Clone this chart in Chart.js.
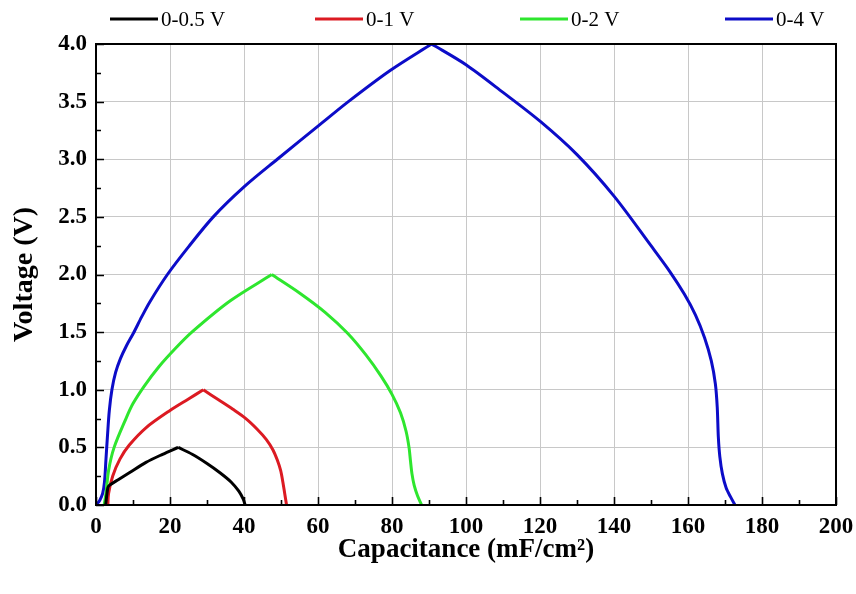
<!DOCTYPE html>
<html><head><meta charset="utf-8">
<script src="https://cdn.jsdelivr.net/npm/chart.js@4/dist/chart.umd.min.js"></script>
<style>html,body{margin:0;padding:0;background:#fff}#wrap{width:856px;height:594px;position:relative}</style>
</head><body><div id="wrap"><canvas id="c" width="856" height="594"></canvas></div>
<script>
// ---- data ----
const seriesLabels = ['0-0.5 V', '0-1 V', '0-2 V', '0-4 V'];
const seriesColors = ['#000000', '#dc1a22', '#2ee62e', '#0c0cc8'];

// 0-0.5 V
const s05ChargeX    = [2.6, 3.2, 3.6, 6.0, 9.0, 13.5, 18.0, 22.2];
const s05ChargeY    = [0.0, 0.15, 0.17, 0.22, 0.28, 0.37, 0.44, 0.50];
const s05DischargeX = [22.2, 26.0, 30.0, 33.5, 36.5, 38.6, 39.8, 40.3];
const s05DischargeY = [0.50, 0.44, 0.36, 0.28, 0.20, 0.12, 0.05, 0.0];

// 0-1 V
const s1ChargeX    = [3.2, 3.4, 4.5, 6.5, 9.0, 13.5, 20.0, 25.0, 29.0];
const s1ChargeY    = [0.0, 0.10, 0.25, 0.40, 0.52, 0.67, 0.82, 0.92, 1.00];
const s1DischargeX = [29.0, 33.0, 37.0, 40.5, 43.5, 46.0, 47.8, 49.0, 49.9, 50.5, 51.0, 51.5];
const s1DischargeY = [1.00, 0.915, 0.83, 0.75, 0.66, 0.57, 0.48, 0.39, 0.30, 0.20, 0.10, 0.0];

// 0-2 V
const s2ChargeX    = [2.2, 2.7, 3.4, 4.9, 8.1, 10.0, 13.0, 17.0, 21.5, 25.9, 36.2, 47.5];
const s2ChargeY    = [0.0, 0.10, 0.30, 0.50, 0.75, 0.88, 1.03, 1.20, 1.36, 1.50, 1.77, 2.00];
const s2DischargeX = [47.5, 55.0, 62.0, 68.0, 73.0, 77.0, 80.0, 82.3, 83.8, 84.6, 85.0, 85.4, 86.0, 86.9, 88.0];
const s2DischargeY = [2.00, 1.84, 1.67, 1.49, 1.30, 1.12, 0.96, 0.80, 0.64, 0.50, 0.38, 0.27, 0.17, 0.08, 0.0];

// 0-4 V
const s4ChargeX    = [0.0, 1.0, 1.8, 2.3, 2.7, 3.1, 3.6, 4.3, 5.3, 6.6, 8.2, 10.1, 12.3, 14.5, 19.3, 25.0, 31.7, 40.0, 49.0, 60.5, 68.2, 79.5, 90.7];
const s4ChargeY    = [0.0, 0.04, 0.10, 0.20, 0.40, 0.60, 0.82, 1.00, 1.15, 1.27, 1.38, 1.49, 1.63, 1.76, 2.00, 2.24, 2.50, 2.76, 3.00, 3.30, 3.50, 3.77, 4.00];
const s4DischargeX = [90.7, 100.0, 110.0, 120.0, 130.0, 140.0, 150.0, 155.0, 159.0, 162.0, 164.5, 166.3, 167.4, 167.9, 168.2, 168.6, 169.3, 170.3, 171.5, 172.7];
const s4DischargeY = [4.00, 3.82, 3.58, 3.33, 3.04, 2.68, 2.25, 2.03, 1.83, 1.65, 1.45, 1.25, 1.05, 0.85, 0.59, 0.42, 0.27, 0.15, 0.07, 0.0];

const xTickValues = [0, 20, 40, 60, 80, 100, 120, 140, 160, 180, 200];
const yTickValues = [0.0, 0.5, 1.0, 1.5, 2.0, 2.5, 3.0, 3.5, 4.0];
const xTitle = 'Capacitance (mF/cm\u00B2)';
const yTitle = 'Voltage (V)';

// ---- build datasets ----
function pts(xs, ys) { return xs.map((x, i) => ({x: x, y: ys[i]})); }
const curves = [
  [[s05ChargeX, s05ChargeY], [s05DischargeX, s05DischargeY]],
  [[s1ChargeX, s1ChargeY], [s1DischargeX, s1DischargeY]],
  [[s2ChargeX, s2ChargeY], [s2DischargeX, s2DischargeY]],
  [[s4ChargeX, s4ChargeY], [s4DischargeX, s4DischargeY]]
];
const datasets = [];
curves.forEach((c, i) => {
  c.forEach(part => {
    datasets.push({
      label: seriesLabels[i],
      data: pts(part[0], part[1]),
      borderColor: seriesColors[i],
      backgroundColor: seriesColors[i],
      borderWidth: 3,
      pointRadius: 0,
      showLine: true,
      fill: false,
      tension: 0.3
    });
  });
});

const serif = '"Liberation Serif", "Times New Roman", serif';

const decorPlugin = {
  id: 'decor',
  afterDraw(chart) {
    const ctx = chart.ctx;
    const a = chart.chartArea;
    const xs = chart.scales.x, ys = chart.scales.y;
    ctx.save();
    ctx.strokeStyle = '#000';
    ctx.lineWidth = 2;
    ctx.strokeRect(a.left, a.top, a.right - a.left, a.bottom - a.top);
    ctx.lineWidth = 1.6;
    ctx.beginPath();
    for (let i = 0; i < xTickValues.length; i++) {
      const px = Math.round(xs.getPixelForValue(xTickValues[i])) + 0.5;
      ctx.moveTo(px, a.bottom); ctx.lineTo(px, a.bottom - 8);
      if (i < xTickValues.length - 1) {
        const m = Math.round(xs.getPixelForValue((xTickValues[i] + xTickValues[i + 1]) / 2)) + 0.5;
        ctx.moveTo(m, a.bottom); ctx.lineTo(m, a.bottom - 5);
      }
    }
    for (let i = 0; i < yTickValues.length; i++) {
      const py = Math.round(ys.getPixelForValue(yTickValues[i])) + 0.5;
      ctx.moveTo(a.left, py); ctx.lineTo(a.left + 8, py);
      if (i < yTickValues.length - 1) {
        const m = Math.round(ys.getPixelForValue((yTickValues[i] + yTickValues[i + 1]) / 2)) + 0.5;
        ctx.moveTo(a.left, m); ctx.lineTo(a.left + 5, m);
      }
    }
    ctx.stroke();
    // legend
    const startX = 110, step = 205, lineLen = 48, ly = 19;
    ctx.font = '21px ' + serif;
    ctx.textBaseline = 'middle';
    ctx.textAlign = 'left';
    for (let i = 0; i < seriesLabels.length; i++) {
      const x0 = startX + i * step;
      ctx.strokeStyle = seriesColors[i];
      ctx.lineWidth = 3;
      ctx.beginPath(); ctx.moveTo(x0, ly); ctx.lineTo(x0 + lineLen, ly); ctx.stroke();
      ctx.fillStyle = '#000';
      ctx.fillText(seriesLabels[i], x0 + lineLen + 3, ly + 1);
    }
    ctx.restore();
  }
};

new Chart(document.getElementById('c'), {
  type: 'scatter',
  data: { datasets: datasets },
  options: {
    responsive: false,
    animation: false,
    layout: { padding: { top: 44, right: 20, bottom: 0, left: 0 } },
    plugins: { legend: { display: false }, tooltip: { enabled: false } },
    scales: {
      x: {
        type: 'linear', min: 0, max: 200,
        afterFit(s) { s.height = 89; s.paddingRight = 0; s.paddingLeft = 0; },
        afterBuildTicks(s) { s.ticks = xTickValues.map(v => ({value: v})); },
        ticks: { padding: 8, color: '#000', font: { family: serif, size: 23, weight: 'bold' } },
        grid: { color: '#c8c8c8', lineWidth: 1, drawTicks: false },
        border: { display: false },
        title: { display: true, text: xTitle, color: '#000', font: { family: serif, size: 27, weight: 'bold' }, padding: { top: 0, bottom: 28 } }
      },
      y: {
        type: 'linear', min: 0, max: 4,
        afterFit(s) { s.width = 96; s.paddingTop = 0; s.paddingBottom = 0; },
        afterBuildTicks(s) { s.ticks = yTickValues.map(v => ({value: v})); },
        ticks: { padding: 9, color: '#000', font: { family: serif, size: 23, weight: 'bold' }, callback: v => Number(v).toFixed(1) },
        grid: { color: '#c8c8c8', lineWidth: 1, drawTicks: false },
        border: { display: false },
        title: { display: true, text: yTitle, color: '#000', font: { family: serif, size: 28, weight: 'bold' }, padding: { top: 8, bottom: 0 } }
      }
    }
  },
  plugins: [decorPlugin]
});
</script></body></html>
